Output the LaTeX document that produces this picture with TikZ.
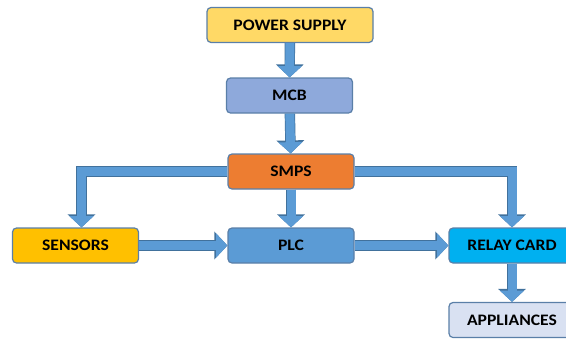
\documentclass[tikz,border=0pt]{standalone}
\usepackage{fontspec}
\setmainfont{Carlito}
\newfontfamily\labelfont[FakeStretch=1.1]{Carlito}
\usetikzlibrary{arrows.meta}

\definecolor{supplyfill}{HTML}{FFD966}
\definecolor{mcbfill}{HTML}{8EA9DB}
\definecolor{smpsfill}{HTML}{ED7D31}
\definecolor{sensorfill}{HTML}{FFC000}
\definecolor{plcfill}{HTML}{5B9BD5}
\definecolor{relayfill}{HTML}{00B0F0}
\definecolor{appfill}{HTML}{D9E1F2}
\definecolor{boxedge}{HTML}{5A7FA8}
\definecolor{arrowfill}{HTML}{5B9BD5}
\definecolor{arrowedge}{HTML}{41719C}

\tikzset{
  unit/.style={draw=boxedge, line width=1.2pt, rounded corners=4pt,
    minimum width=126pt, minimum height=35pt, inner sep=0pt,
    text=black, font=\labelfont\bfseries\fontsize{16}{19}\selectfont},
  flow/.style={arrowfill, line width=9pt, line join=miter,
    -{Triangle[width=0pt 2.6, length=0pt 1.25]},
    preaction={draw=arrowedge, line width=10.4pt,
      -{Triangle[width=0pt 2.6, length=0pt 1.25]}}}
}

\begin{document}
\begin{tikzpicture}[
    x=1pt,
    y=-1pt
  ]
  \clip (0,0) rectangle (566,338);

  \node[unit, fill=supplyfill, minimum width=166pt] (supply) at (290,25) {POWER SUPPLY};
  \node[unit, fill=mcbfill] (mcb) at (289.5,95.5) {MCB};
  \node[unit, fill=smpsfill] (smps) at (291,171.5) {SMPS};
  \node[unit, fill=sensorfill] (sensors) at (75.5,245.5) {SENSORS};
  \node[unit, fill=plcfill] (plc) at (291,245.5) {PLC};
  \node[unit, fill=relayfill] (relay) at (512,245.5) {RELAY CARD};
  \node[unit, fill=appfill] (appl) at (512,320) {APPLIANCES};

  \draw[flow] (supply) -- (mcb);
  \draw[flow] (mcb) -- (smps);
  \draw[flow] (smps.west) -| ([xshift=6pt]sensors.north);
  \draw[flow] (smps.east) -| (relay.north);
  \draw[flow] (smps) -- (plc);
  \draw[flow] (sensors) -- (plc);
  \draw[flow] (plc) -- (relay);
  \draw[flow] (relay) -- (appl);
\end{tikzpicture}
\end{document}
